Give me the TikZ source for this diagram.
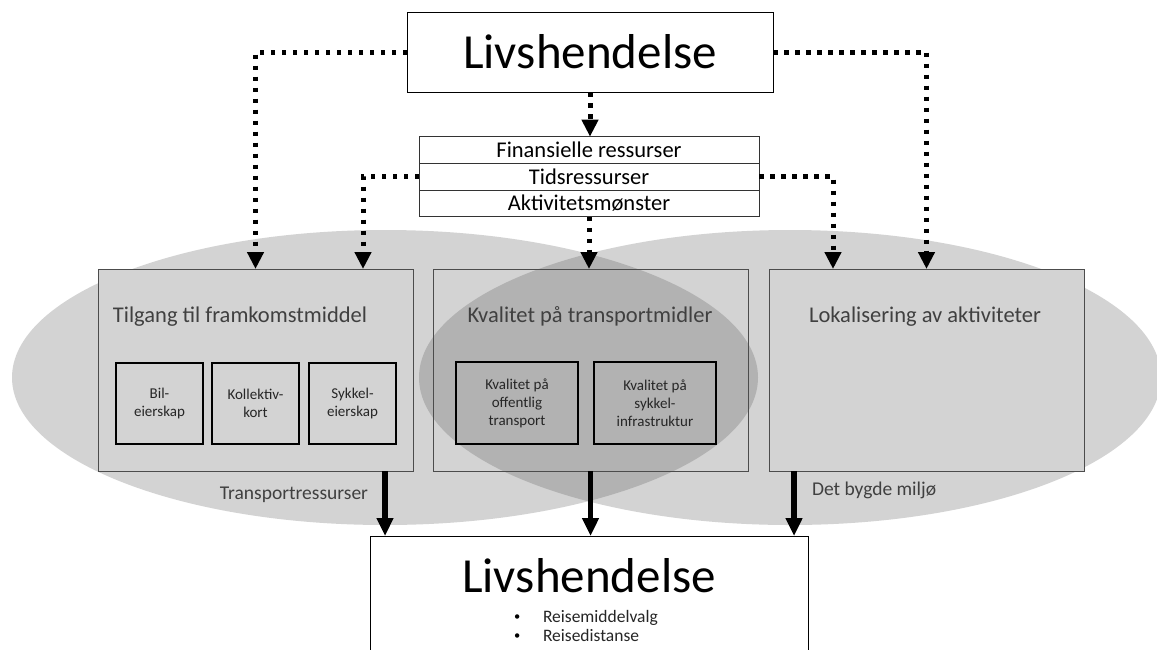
\documentclass[tikz,border=0pt]{standalone}
\usepackage{fontspec}
\setmainfont{Carlito}
\usetikzlibrary{arrows.meta}
\definecolor{lysgraa}{RGB}{211,211,211}
\definecolor{morkgraa}{RGB}{178,178,178}
\definecolor{tekstgraa}{RGB}{64,64,64}
\newcommand{\punkt}{\makebox[29pt][l]{\raisebox{1.5pt}{\fontsize{12.5}{12.5}\selectfont\textbullet}}}

\begin{document}
\begin{tikzpicture}[
    x=1pt, y=-1pt,
    every node/.style={inner sep=0pt, outer sep=0pt},
    hvitboks/.style={draw=black, line width=1pt, fill=white},
    graaboks/.style={draw=black!70, line width=1pt, minimum width=315pt, minimum height=202pt},
    smaaboks/.style={draw=black, line width=1.8pt, minimum height=81pt, align=center,
        text=black!85, font=\fontsize{15}{18}\selectfont},
    tittel/.style={text=tekstgraa, anchor=base, font=\fontsize{22.5}{27}\selectfont},
    rad/.style={draw=black!80, line width=0.9pt, fill=white, minimum width=340pt,
        minimum height=26.7pt, font=\fontsize{22.5}{26}\selectfont},
    etikett/.style={text=tekstgraa, font=\fontsize{19.5}{23}\selectfont},
    prikk/.style={line width=5pt, dash pattern=on 4.5pt off 6.5pt,
        -{Triangle[width=16pt,length=17pt]}},
    tykk/.style={line width=5.5pt, -{Triangle[width=16pt,length=18pt]}}
]
\clip (0,0) rectangle (1157,649);

% ellipses
\fill[lysgraa] (385,377.5) ellipse [x radius=373, y radius=147.5];
\fill[lysgraa] (790,377.5) ellipse [x radius=371, y radius=147.5];
\begin{scope}
    \clip (385,377.5) ellipse [x radius=373, y radius=147.5];
    \fill[morkgraa] (790,377.5) ellipse [x radius=371, y radius=147.5];
\end{scope}

% top
\node[hvitboks, minimum width=366pt, minimum height=80pt,
    font=\fontsize{49}{55}\selectfont] (topp) at (590,52) {Livshendelse};
\node[rad] (fin) at (589,150) {Finansielle ressurser};
\node[rad] (tid) at (589,176.7) {Tidsressurser};
\node[rad] (akt) at (589,203.4) {Aktivitetsmønster};

% middle boxes
\node[graaboks, fill=lysgraa] (tilgang) at (255.5,370) {};
\node[graaboks] (kvalitet) at (590.5,370) {};
\node[graaboks, fill=lysgraa] (lokal) at (926.5,370) {};

\node[tittel] (tilgangtittel) at (240,322) {Tilgang til framkomstmiddel};
\node[tittel] (kvalitettittel) at (590,322) {Kvalitet på transportmidler};
\node[tittel] (lokaltittel) at (925,322) {Lokalisering av aktiviteter};

\node[smaaboks, minimum width=87pt] (bil) at (159.5,403.5) {Bil-\\eierskap};
\node[smaaboks, minimum width=87pt] (koll) at (255.5,403.5) {Kollektiv-\\kort};
\node[smaaboks, minimum width=87pt] (sykkel) at (352.5,403.5) {Sykkel-\\eierskap};
\node[smaaboks, minimum width=122pt, minimum height=82pt] (offentlig) at (517,403)
    {Kvalitet på\\offentlig\\transport};
\node[smaaboks, minimum width=122pt, minimum height=82pt] (sykkelinfra) at (655,403)
    {Kvalitet på\\sykkel-\\infrastruktur};

% bottom
\node[hvitboks, minimum width=438pt, minimum height=140pt, anchor=north] (bunn) at (589,536) {};
\node[anchor=base, font=\fontsize{49}{55}\selectfont] (bunntekst) at (589,592) {Livshendelse};
\node[anchor=base west, font=\fontsize{17.5}{20}\selectfont] (punkt1) at (514,622)
    {\punkt\textcolor{black!85}{Reisemiddelvalg}};
\node[anchor=base west, font=\fontsize{17.5}{20}\selectfont] (punkt2) at (514,641)
    {\punkt\textcolor{black!85}{Reisedistanse}};

% dotted arrows
\draw[prikk] (topp.west) -| (tilgang.north);
\draw[prikk] (topp.east) -| (lokal.north);
\draw[prikk] (topp.south) -- (topp.south |- fin.north);
\draw[prikk] (tid.west) -| ([xshift=107.5pt]tilgang.north);
\draw[prikk] (tid.east) -| ([xshift=-93.5pt]lokal.north);
\draw[prikk] (akt.south) -- (akt.south |- kvalitet.north);

% thick arrows
\draw[tykk] ([xshift=129.5pt]tilgang.south) -- ([xshift=15pt]bunn.north west);
\draw[tykk] (kvalitet.south) -- (kvalitet.south |- bunn.north);
\draw[tykk] ([xshift=25pt]lokal.south west) -- ([xshift=-14pt]bunn.north east);

\node[etikett, anchor=base east] (transport) at (368,499) {Transportressurser};
\node[etikett, anchor=base west] (bygd) at (812,495) {Det bygde miljø};
\end{tikzpicture}
\end{document}
